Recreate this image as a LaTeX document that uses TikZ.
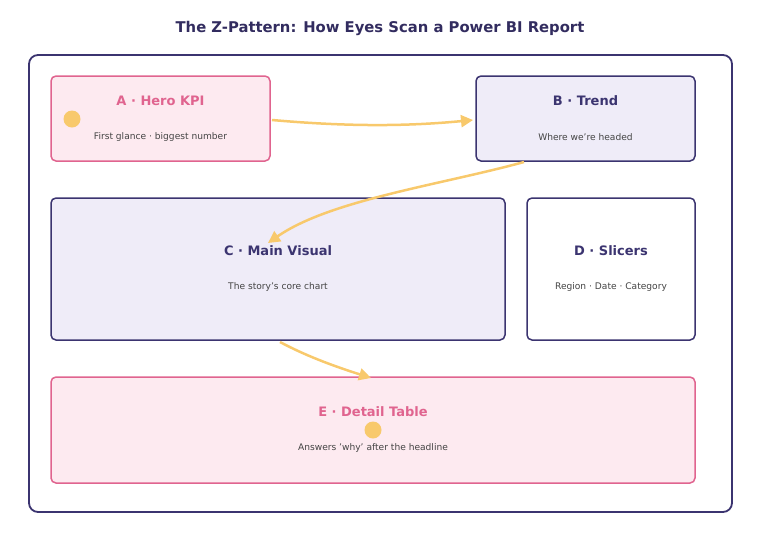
\documentclass[tikz,border=0pt]{standalone}
\usepackage{fontspec}
\setmainfont{DejaVu Sans}
\usetikzlibrary{arrows.meta}
\definecolor{navy}{HTML}{3B3470}
\definecolor{pinkS}{HTML}{E0648F}
\definecolor{pinkF}{HTML}{FDEAF0}
\definecolor{lavF}{HTML}{EFECF8}
\definecolor{gold}{HTML}{F8C96C}
\definecolor{sub}{HTML}{444444}
\begin{document}
\begin{tikzpicture}[x=1pt,y=-1pt,
 box/.style={rounded corners=5pt,line width=1.5pt},
 pinkbox/.style={box,draw=pinkS,fill=pinkF},
 lavbox/.style={box,draw=navy,fill=lavF},
 whitebox/.style={box,draw=navy,fill=white},
 ttl/.style={font=\bfseries\fontsize{13}{15}\selectfont},
 subt/.style={font=\fontsize{9.1}{10}\selectfont,text=sub},
 flow/.style={draw=gold,line width=2.5pt,-{Triangle[length=12pt,width=12pt]}},
 dot/.style={circle,fill=gold,minimum size=17pt,inner sep=0pt}]
\useasboundingbox (0,0) rectangle (760,542);
\node[font=\bfseries\fontsize{14.8}{16}\selectfont,text=navy!85!black] (title) at (380,28) {The Z-Pattern: How Eyes Scan a Power BI Report};
\draw[rounded corners=9pt,line width=1.8pt,draw=navy] (29,55) rectangle (732,512);
\draw[pinkbox] (51,76) rectangle (270,161);
\draw[lavbox] (476,76) rectangle (695,161);
\draw[lavbox] (51,198) rectangle (505,340);
\draw[whitebox] (527,198) rectangle (695,340);
\draw[pinkbox] (51,377) rectangle (695,483);
\node[ttl,text=pinkS] (at) at (160.5,101) {A · Hero KPI};
\node[subt] (as) at (160.5,137) {First glance · biggest number};
\node[ttl,text=navy] (bt) at (585.5,101) {B · Trend};
\node[subt] (bs) at (585.5,137) {Where we're headed};
\node[ttl,text=navy] (ct) at (278,251) {C · Main Visual};
\node[subt] (cs) at (278,287) {The story's core chart};
\node[ttl,text=navy] (dt) at (611,251) {D · Slicers};
\node[subt] (ds) at (611,287) {Region · Date · Category};
\node[ttl,text=pinkS] (et) at (373,412) {E · Detail Table};
\node[subt] (es) at (373,448) {Answers 'why' after the headline};
\node[dot] (d1) at (72,119) {};
\node[dot] (d2) at (373,430) {};
\coordinate (a1) at (272,120);
\coordinate (b1) at (473,120);
\coordinate (b2) at (524,162);
\coordinate (c1) at (268,243);
\coordinate (c2) at (280,342);
\coordinate (e1) at (371,378);
\draw[flow] (a1) .. controls (340,126) and (400,127) .. (b1);
\draw[flow] (b2) .. controls (440,185) and (330,200) .. (c1);
\draw[flow] (c2) .. controls (310,358) and (340,368) .. (e1);
\end{tikzpicture}
\end{document}
